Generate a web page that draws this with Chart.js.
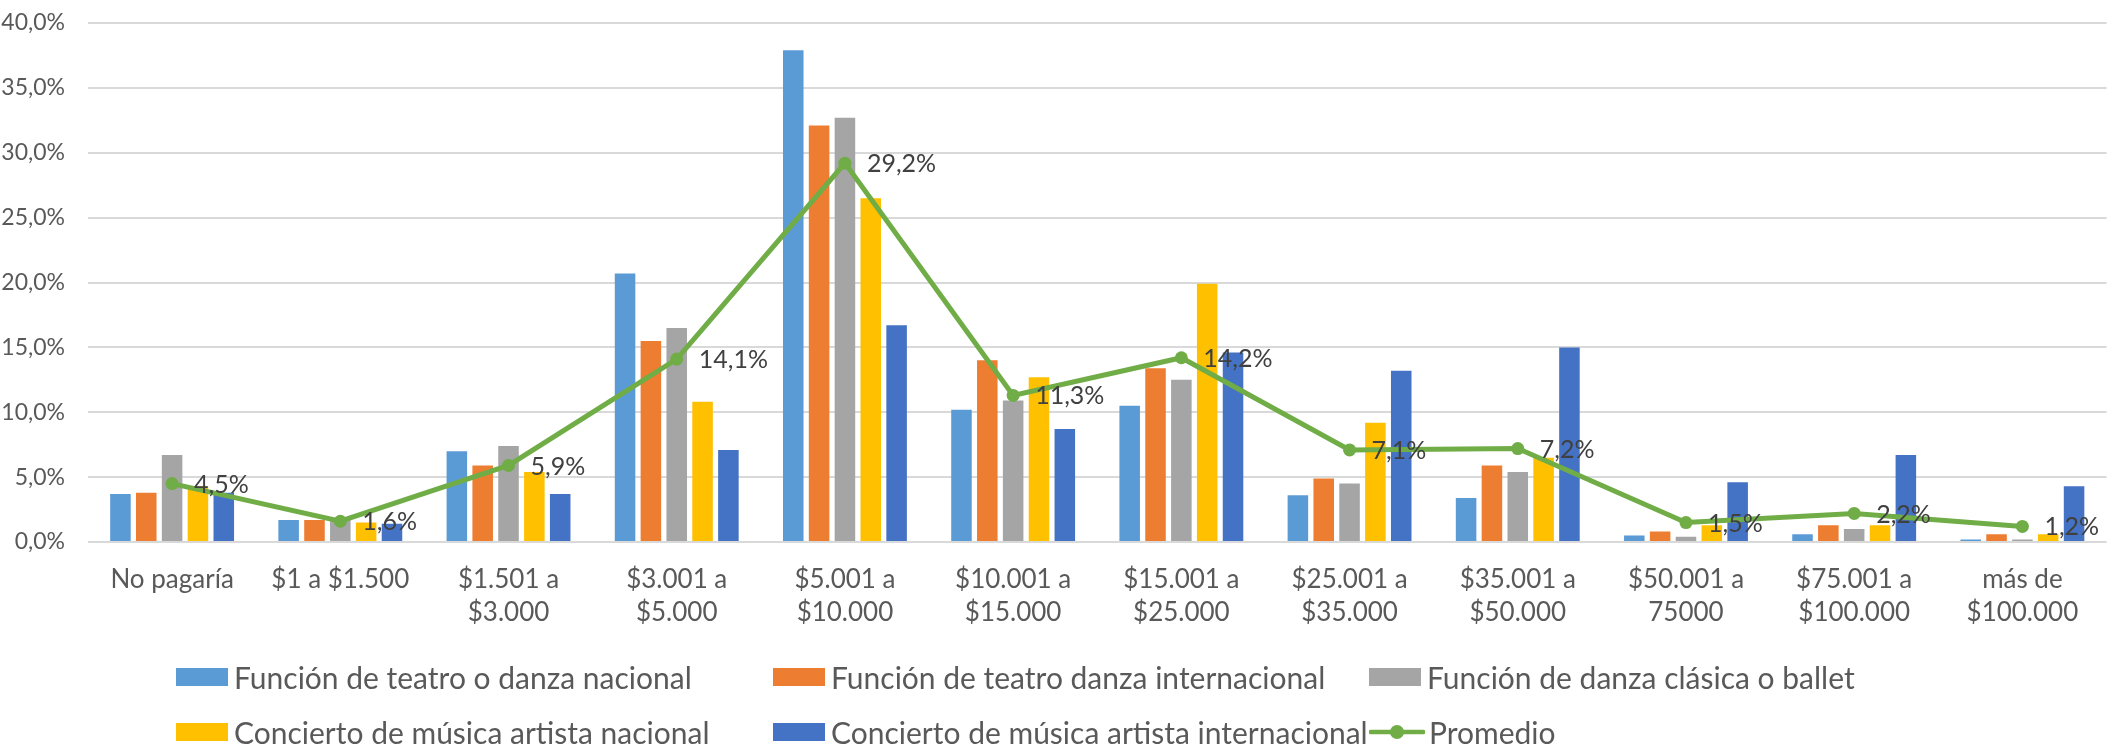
<!DOCTYPE html>
<html lang="es">
<head>
<meta charset="utf-8">
<title>Disposición a pagar por espectáculo</title>
<script src="https://cdn.jsdelivr.net/npm/chart.js@4.4.1/dist/chart.umd.min.js"></script>
<style>
    html, body { margin: 0; padding: 0; background: #ffffff; }
    #wrap { position: relative; width: 2113px; height: 749px; }
    #wrap canvas { position: absolute; left: 0; top: 0; }
    .leg-item {
        position: absolute;
        display: flex;
        align-items: center;
        height: 40px;
        font-family: Lato, 'Noto Sans', sans-serif;
        font-size: 30px;
        color: #595959;
        white-space: nowrap;
    }
    .leg-box { width: 52px; height: 18px; margin-right: 6px; }
    .leg-line { position: relative; width: 56px; height: 18px; margin-right: 4px; }
</style>
</head>
<body>
<div id="wrap">
    <canvas id="precioChart" width="2113" height="749"></canvas>
    <div id="legend"></div>
</div>
<script>
// Rangos de precio
const categorias = [
    'No pagaría', '$1 a $1.500', ['$1.501 a', '$3.000'], ['$3.001 a', '$5.000'],
    ['$5.001 a', '$10.000'], ['$10.001 a', '$15.000'], ['$15.001 a', '$25.000'],
    ['$25.001 a', '$35.000'], ['$35.001 a', '$50.000'], ['$50.001 a', '75000'],
    ['$75.001 a', '$100.000'], ['más de', '$100.000']
];

// Porcentaje de respuestas por tipo de espectáculo
const teatroNacional      = [3.7, 1.7, 7.0, 20.7, 37.9, 10.2, 10.5, 3.6, 3.4, 0.5, 0.6, 0.2];
const teatroInternacional = [3.8, 1.7, 5.9, 15.5, 32.1, 14.0, 13.4, 4.9, 5.9, 0.8, 1.3, 0.6];
const danzaBallet         = [6.7, 1.7, 7.4, 16.5, 32.7, 10.9, 12.5, 4.5, 5.4, 0.4, 1.0, 0.2];
const musicaNacional      = [4.3, 1.5, 5.4, 10.8, 26.5, 12.7, 19.9, 9.2, 6.5, 1.3, 1.3, 0.6];
const musicaInternacional = [3.8, 1.4, 3.7, 7.1, 16.7, 8.7, 14.6, 13.2, 15.0, 4.6, 6.7, 4.3];
const promedio            = [4.5, 1.6, 5.9, 14.1, 29.2, 11.3, 14.2, 7.1, 7.2, 1.5, 2.2, 1.2];

const ejeY = { min: 0, max: 40, paso: 5 };

const FONT = "Lato, 'Noto Sans', sans-serif";

function pct(v) {
    return v.toFixed(1).replace('.', ',') + '%';
}

function barra(label, data, color) {
    return {
        type: 'bar',
        label: label,
        data: data,
        backgroundColor: color,
        borderWidth: 0,
        order: 1
    };
}

// Etiquetas de valor a la derecha de cada punto del promedio
const etiquetasPromedio = {
    id: 'etiquetasPromedio',
    afterDatasetsDraw(chart) {
        const ctx = chart.ctx;
        chart.data.datasets.forEach((ds, i) => {
            if (ds.type !== 'line') return;
            const meta = chart.getDatasetMeta(i);
            ctx.save();
            ctx.font = '25px ' + FONT;
            ctx.fillStyle = '#404040';
            ctx.textAlign = 'left';
            ctx.textBaseline = 'middle';
            meta.data.forEach((pt, j) => {
                ctx.fillText(pct(ds.data[j]), pt.x + 22, pt.y + 1);
            });
            ctx.restore();
        });
    }
};

const ctx = document.getElementById('precioChart').getContext('2d');

const precioChart = new Chart(ctx, {
    type: 'bar',
    data: {
        labels: categorias,
        datasets: [
            barra('Función de teatro o danza nacional', teatroNacional, '#5B9BD5'),
            barra('Función de teatro danza internacional', teatroInternacional, '#ED7D31'),
            barra('Función de danza clásica o ballet', danzaBallet, '#A5A5A5'),
            barra('Concierto de música artista nacional', musicaNacional, '#FFC000'),
            barra('Concierto de música artista internacional', musicaInternacional, '#4472C4'),
            {
                type: 'line',
                label: 'Promedio',
                data: promedio,
                borderColor: '#70AD47',
                backgroundColor: '#70AD47',
                borderWidth: 5,
                pointRadius: 6.5,
                pointBorderWidth: 0,
                pointBackgroundColor: '#70AD47',
                tension: 0,
                fill: false,
                order: 0
            }
        ]
    },
    options: {
        responsive: false,
        animation: false,
        layout: { padding: { top: 23, right: 3, left: 0, bottom: 0 } },
        datasets: {
            bar: { categoryPercentage: 0.768, barPercentage: 0.795 }
        },
        scales: {
            x: {
                grid: { display: false, drawTicks: false },
                border: { display: false },
                ticks: {
                    color: '#595959',
                    font: { family: FONT, size: 26, lineHeight: '33px' },
                    padding: 21,
                    maxRotation: 0,
                    autoSkip: false
                },
                afterFit(scale) { scale.height = 207; }
            },
            y: {
                min: ejeY.min,
                max: ejeY.max,
                // the label gap comes from an invisible tick mark so it doesn't push the top down
                grid: { color: '#d9d9d9', lineWidth: 2, drawTicks: true, tickLength: 23, tickColor: 'rgba(0,0,0,0)' },
                border: { display: false },
                ticks: {
                    stepSize: ejeY.paso,
                    color: '#595959',
                    font: { family: FONT, size: 23 },
                    padding: 0,
                    callback: v => pct(v)
                },
                afterFit(scale) { scale.width = 88; }
            }
        },
        plugins: {
            legend: { display: false },
            tooltip: { enabled: false }
        }
    },
    plugins: [etiquetasPromedio]
});

// Leyenda en dos filas de tres columnas
const columnasLeyenda = [176, 773, 1369];
const filasLeyenda = [657, 712];
const legend = document.getElementById('legend');
precioChart.data.datasets.forEach((ds, i) => {
    const item = document.createElement('div');
    item.className = 'leg-item';
    item.style.left = columnasLeyenda[i % 3] + 'px';
    item.style.top = filasLeyenda[Math.floor(i / 3)] + 'px';
    if (ds.type === 'line') {
        item.innerHTML =
            '<svg class="leg-line" viewBox="0 0 56 18">' +
            '<line x1="2" y1="9" x2="54" y2="9" stroke="' + ds.borderColor + '" stroke-width="4.7" stroke-linecap="round"/>' +
            '<circle cx="28" cy="9" r="7" fill="' + ds.borderColor + '"/></svg>';
    } else {
        item.innerHTML = '<div class="leg-box" style="background:' + ds.backgroundColor + '"></div>';
    }
    const txt = document.createElement('span');
    txt.textContent = ds.label;
    item.appendChild(txt);
    legend.appendChild(item);
});
</script>
</body>
</html>
